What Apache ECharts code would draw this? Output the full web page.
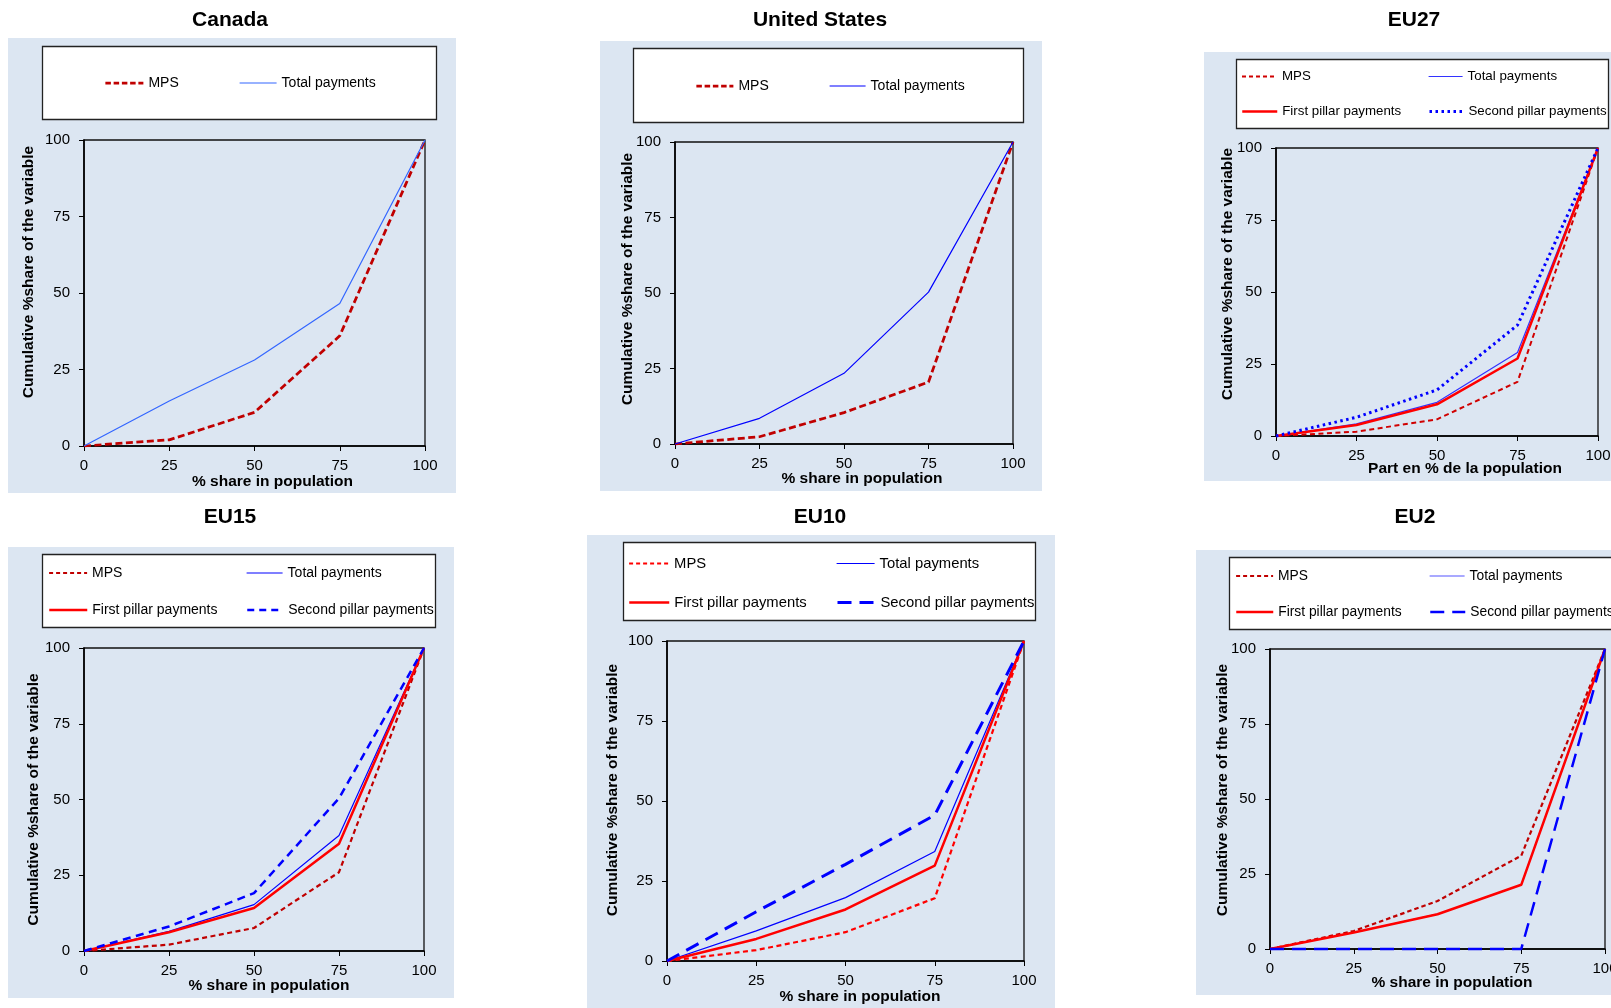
<!DOCTYPE html>
<html>
<head>
<meta charset="utf-8">
<script src="https://cdn.jsdelivr.net/npm/echarts@6/dist/echarts.min.js"></script>
<style>
html,body{margin:0;padding:0;background:#ffffff;}
#chart{width:1611px;height:1008px;}
</style>
</head>
<body>
<div id="chart"></div>
<script>
// ---------------- DATA ----------------
const population = [0, 25, 50, 75, 100];          // % share in population (x)
const tickValues = [0, 25, 50, 75, 100];          // tick labels on both axes
const panelTitles = ['Canada', 'United States', 'EU27', 'EU15', 'EU10', 'EU2'];
const seriesNames = ['MPS', 'Total payments', 'First pillar payments', 'Second pillar payments'];
const xNameEN = '% share in population';
const xNameFR = 'Part en % de la population';
const yName = 'Cumulative %share of the variable';

const canadaMPS   = [0, 2.0, 11.0, 36.0, 100];
const canadaTotal = [0, 14.7, 28.1, 46.6, 100];

const usMPS   = [0, 2.4, 10.4, 20.5, 100];
const usTotal = [0, 8.5, 23.4, 50.3, 100];

const eu27MPS    = [0, 1.5, 5.8, 18.8, 100];
const eu27Total  = [0, 4.2, 11.7, 29.0, 100];
const eu27First  = [0, 3.8, 11.0, 26.9, 100];
const eu27Second = [0, 6.5, 16.0, 38.5, 100];

const eu15MPS    = [0, 2.1, 7.6, 26.0, 100];
const eu15Total  = [0, 6.5, 15.3, 38.1, 100];
const eu15First  = [0, 6.2, 14.2, 35.4, 100];
const eu15Second = [0, 8.1, 19.1, 50.4, 100];

const eu10MPS    = [0, 3.4, 9.0, 19.6, 100];
const eu10Total  = [0, 9.4, 19.8, 34.2, 100];
const eu10First  = [0, 6.9, 16.1, 29.8, 100];
const eu10Second = [0, 15.4, 30.2, 45.6, 100];

const eu2MPS    = [0, 6.0, 16.0, 31.1, 100];
const eu2Total  = [0, 5.5, 11.6, 21.4, 100];
const eu2First  = [0, 5.5, 11.6, 21.4, 100];
const eu2Second = [0, 0, 0, 0, 100];

// ---------------- STYLE / LAYOUT ----------------
const FONT = 'Liberation Sans, Arial, Helvetica, sans-serif';
const BG = '#DCE6F2';

const panels = [
  { title: panelTitles[0], cx: 230, ty: 10, bg: [8, 38, 448, 455], box: [42, 46, 394, 73],
    grid: [84, 140, 341, 306], xName: xNameEN, xGap: 28, xShift: 18, yGap: 47, yShift: 21, lfont: 14,
    series: [
      { name: seriesNames[0], data: canadaMPS, color: '#C00000', width: 2.75, type: [7, 3.5], ltype: [5.5, 2.75] },
      { name: seriesNames[1], data: canadaTotal, color: '#3366FF', width: 1.2, type: 'solid' }
    ],
    legend: [[104, 83, 38], [239, 83, 37]] },
  { title: panelTitles[1], cx: 820, ty: 10, bg: [600, 41, 442, 450], box: [633, 48, 390, 74],
    grid: [675, 142, 338, 302], xName: xNameEN, xGap: 27, xShift: 18, yGap: 39, yShift: 14, lfont: 14,
    series: [
      { name: seriesNames[0], data: usMPS, color: '#C00000', width: 2.75, type: [7, 3.5], ltype: [5.5, 2.75] },
      { name: seriesNames[1], data: usTotal, color: '#0000FF', width: 1.2, type: 'solid' }
    ],
    legend: [[695, 86, 37], [829, 86, 36]] },
  { title: panelTitles[2], cx: 1414, ty: 10, bg: [1204, 52, 407, 429], box: [1236, 59, 372, 69],
    grid: [1276, 148, 322, 288], xName: xNameFR, xGap: 25, xShift: 28, yGap: 40, yShift: 18, lfont: 13.3,
    series: [
      { name: seriesNames[0], data: eu27MPS, color: '#D00000', width: 2, type: [5, 3.5], ltype: [4, 3] },
      { name: seriesNames[1], data: eu27Total, color: '#3333FF', width: 1.2, type: 'solid' },
      { name: seriesNames[2], data: eu27First, color: '#FF0000', width: 2.5, type: 'solid' },
      { name: seriesNames[3], data: eu27Second, color: '#0000FF', width: 3, type: [2.5, 3.5] }
    ],
    legend: [[1241, 77, 35], [1428, 77, 34], [1241, 112, 35], [1428, 112, 34]] },
  { title: panelTitles[3], cx: 230, ty: 507, bg: [8, 547, 446, 451], box: [42, 554, 393, 73],
    grid: [84, 648, 340, 303], xName: xNameEN, xGap: 27, xShift: 15, yGap: 42, yShift: 0, lfont: 14,
    series: [
      { name: seriesNames[0], data: eu15MPS, color: '#C00000', width: 2.2, type: [5, 3.5], ltype: [4, 3] },
      { name: seriesNames[1], data: eu15Total, color: '#0000FF', width: 1.2, type: 'solid' },
      { name: seriesNames[2], data: eu15First, color: '#FF0000', width: 2.5, type: 'solid' },
      { name: seriesNames[3], data: eu15Second, color: '#0000FF', width: 2.5, type: [8, 5.5], ltype: [7, 5] }
    ],
    legend: [[48, 573, 38], [246, 573, 36], [48, 610, 38], [246, 610, 36]] },
  { title: panelTitles[4], cx: 820, ty: 507, bg: [587, 535, 468, 473], box: [623, 542, 412, 78],
    grid: [667, 641, 357, 320], xName: xNameEN, xGap: 28, xShift: 14.5, yGap: 46, yShift: 11, lfont: 14.8,
    series: [
      { name: seriesNames[0], data: eu10MPS, color: '#FF0000', width: 2.2, type: [5, 3.5], ltype: [4, 3] },
      { name: seriesNames[1], data: eu10Total, color: '#0000FF', width: 1.2, type: 'solid' },
      { name: seriesNames[2], data: eu10First, color: '#FF0000', width: 2.5, type: 'solid' },
      { name: seriesNames[3], data: eu10Second, color: '#0000FF', width: 3, type: [14, 8] }
    ],
    legend: [[628, 563, 40], [836, 563, 38], [628, 602, 40], [836, 602, 38]] },
  { title: panelTitles[5], cx: 1415, ty: 507, bg: [1196, 550, 415, 445], box: [1229, 557, 400, 72],
    grid: [1270, 649, 335, 300], xName: xNameEN, xGap: 26, xShift: 14.5, yGap: 39, yShift: 9, lfont: 13.8,
    series: [
      { name: seriesNames[0], data: eu2MPS, color: '#C00000', width: 2.2, type: [4.5, 3], ltype: [4, 3] },
      { name: seriesNames[1], data: eu2Total, color: '#5555FF', width: 1.2, type: 'solid' },
      { name: seriesNames[2], data: eu2First, color: '#FF0000', width: 2.5, type: 'solid' },
      { name: seriesNames[3], data: eu2Second, color: '#0000FF', width: 2.5, type: [14, 8] }
    ],
    legend: [[1235, 576, 37], [1429, 576, 35], [1235, 612, 37], [1429, 612, 35]] }
];

const option = {
  animation: false,
  backgroundColor: '#FFFFFF',
  title: [], grid: [], xAxis: [], yAxis: [], series: [], legend: [], graphic: []
};

panels.forEach((p, i) => {
  option.title.push({
    text: p.title, left: p.cx, top: p.ty, textAlign: 'center', padding: 0,
    textStyle: { fontSize: 21, fontWeight: 'bold', color: '#000', fontFamily: FONT }
  });
  option.graphic.push({
    type: 'rect', z: -10, silent: true,
    shape: { x: p.bg[0], y: p.bg[1], width: p.bg[2], height: p.bg[3] },
    style: { fill: BG }
  });
  option.graphic.push({
    type: 'rect', z: -5, silent: true,
    shape: { x: p.box[0] + 0.5, y: p.box[1] + 0.5, width: p.box[2], height: p.box[3] },
    style: { fill: '#FFFFFF', stroke: '#222', lineWidth: 1.3 }
  });
  option.grid.push({
    left: p.grid[0], top: p.grid[1], width: p.grid[2], height: p.grid[3],
    containLabel: false, outerBoundsMode: 'none',
    show: true, backgroundColor: BG, borderColor: '#111', borderWidth: 1.3
  });
  option.xAxis.push({
    type: 'value', gridIndex: i, min: tickValues[0], max: tickValues[tickValues.length - 1], interval: 25,
    axisLine: { show: true, onZero: false, lineStyle: { color: '#000', width: 1.6 } },
    axisTick: { show: true, inside: false, length: 5, lineStyle: { color: '#000', width: 1 } },
    axisLabel: { show: true, margin: 12, fontSize: 15, color: '#000', fontFamily: FONT, hideOverlap: false },
    splitLine: { show: false },
    name: p.xName, nameLocation: 'middle', nameGap: p.xGap, nameMoveOverlap: false,
    nameTextStyle: { fontSize: 15.5, fontWeight: 'bold', color: '#000', fontFamily: FONT, padding: [0, 0, 0, 2 * p.xShift] }
  });
  option.yAxis.push({
    type: 'value', gridIndex: i, min: tickValues[0], max: tickValues[tickValues.length - 1], interval: 25,
    axisLine: { show: true, onZero: false, lineStyle: { color: '#000', width: 1.6 } },
    axisTick: { show: true, inside: false, length: 5, lineStyle: { color: '#000', width: 1 } },
    axisLabel: { show: true, margin: 14, fontSize: 15, color: '#000', fontFamily: FONT, hideOverlap: false },
    splitLine: { show: false },
    name: yName, nameLocation: 'middle', nameGap: p.yGap, nameRotate: 90, nameMoveOverlap: false,
    nameTextStyle: { fontSize: 15.5, fontWeight: 'bold', color: '#000', fontFamily: FONT, padding: [0, 0, 0, 2 * p.yShift] }
  });
  p.series.forEach((s, k) => {
    option.series.push({
      type: 'line', name: s.name, xAxisIndex: i, yAxisIndex: i,
      data: population.map((x, j) => [x, s.data[j]]),
      symbol: 'none', showSymbol: false, clip: false, z: 3 + k,
      lineStyle: { color: s.color, width: s.width, type: s.type },
      itemStyle: { color: s.color },
      emphasis: { disabled: true }
    });
    const lg = p.legend[k];
    option.legend.push({
      show: true, left: lg[0], top: lg[1] - 7, padding: 0, itemWidth: lg[2], itemHeight: 14,
      selectedMode: false, orient: 'horizontal',
      textStyle: { fontSize: p.lfont, color: '#000', fontFamily: FONT },
      data: [{
        name: s.name,
        lineStyle: { color: s.color, width: Math.min(s.width, 3), type: s.ltype || s.type, opacity: 1 },
        itemStyle: { color: 'transparent', borderWidth: 0, opacity: 0 }
      }]
    });
  });
});

const chart = echarts.init(document.getElementById('chart'), null, { renderer: 'canvas' });
chart.setOption(option);
</script>
</body>
</html>
